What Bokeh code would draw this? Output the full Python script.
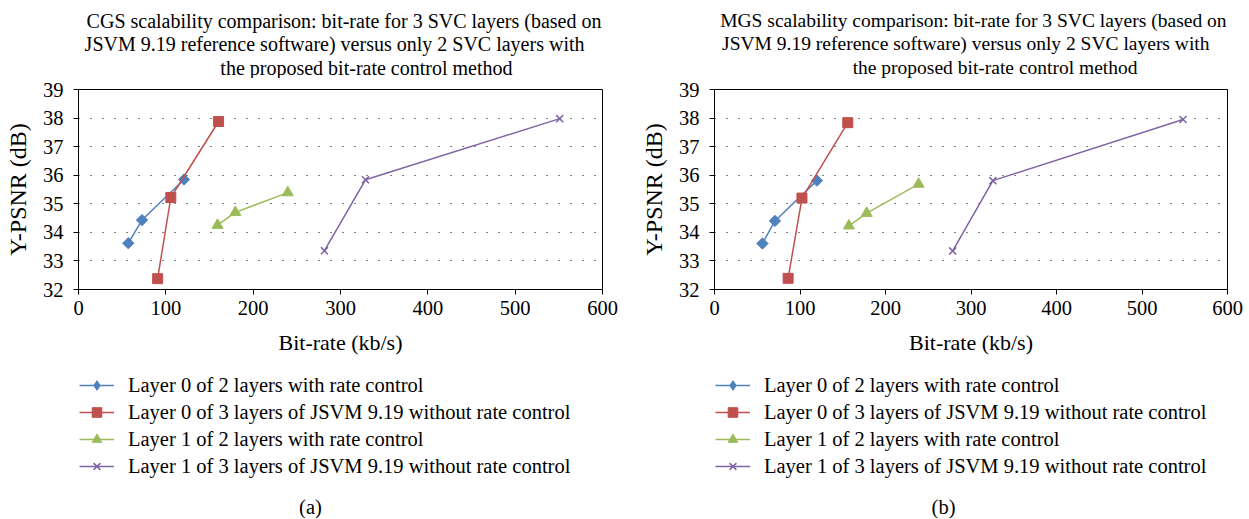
from bokeh.plotting import figure
from bokeh.layouts import row, column
from bokeh.models import Legend, LegendItem, FixedTicker, Range1d
from bokeh.core.properties import value
from bokeh.embed import file_html
from bokeh.resources import INLINE

# ---------------- data ----------------
series_names = [
    "Layer 0 of 2 layers with rate control",
    "Layer 0 of 3 layers of JSVM 9.19 without rate control",
    "Layer 1 of 2 layers with rate control",
    "Layer 1 of 3 layers of JSVM 9.19 without rate control",
]

x_ticks = [0, 100, 200, 300, 400, 500, 600]
y_ticks = [32, 33, 34, 35, 36, 37, 38, 39]

# (a) CGS
cgs_l0_2_x = [57.0, 72.7, 120.8]
cgs_l0_2_y = [33.62, 34.43, 35.85]
cgs_l0_3_x = [90.6, 105.7, 160.4]
cgs_l0_3_y = [32.38, 35.22, 37.88]
cgs_l1_2_x = [159.2, 179.6, 239.6]
cgs_l1_2_y = [34.25, 34.70, 35.39]
cgs_l1_3_x = [281.6, 328.6, 551.0]
cgs_l1_3_y = [33.36, 35.84, 37.98]

# (b) MGS
mgs_l0_2_x = [56.1, 70.7, 119.8]
mgs_l0_2_y = [33.61, 34.40, 35.81]
mgs_l0_3_x = [86.1, 102.3, 155.9]
mgs_l0_3_y = [32.39, 35.20, 37.84]
mgs_l1_2_x = [157.2, 178.0, 238.7]
mgs_l1_2_y = [34.23, 34.67, 35.69]
mgs_l1_3_x = [278.6, 325.6, 548.0]
mgs_l1_3_y = [33.35, 35.81, 37.95]

title_a = ["CGS scalability comparison: bit-rate for 3 SVC layers (based on",
           "JSVM 9.19 reference software) versus only 2 SVC layers with",
           "the proposed bit-rate control method"]
title_b = ["MGS scalability comparison: bit-rate for 3 SVC layers (based on",
           "JSVM 9.19 reference software) versus only 2 SVC layers with",
           "the proposed bit-rate control method"]

x_label = "Bit-rate (kb/s)"
y_label = "Y-PSNR (dB)"

# ---------------- style ----------------
FONT = "Liberation Serif"
FS = "20.5px"
colors = ["#4F81BD", "#C0504D", "#9BBB59", "#8064A2"]
HEAD_H = 78
TOP_B = 11
FRAME_H = 200
BOT_B = 80
MAIN_H = TOP_B + FRAME_H + BOT_B
FOOT_H = 150


def blank(width, height, frame_w):
    # the column layout aligns this frame with the chart's frame,
    # so the x range is given in frame pixels
    f = figure(width=width, height=height, output_backend="svg", toolbar_location=None,
               x_range=Range1d(0, frame_w), y_range=Range1d(0, height),
               x_axis_type=None, y_axis_type=None,
               min_border_left=0, min_border_right=0, min_border_top=0, min_border_bottom=0)
    f.xgrid.visible = False
    f.ygrid.visible = False
    f.outline_line_color = None
    f.background_fill_color = "white"
    f.border_fill_color = "white"
    return f


def make(series, titles, caption, width, left, frame_w, cap_x, title_fs):
    right = width - left - frame_w

    # ---- header with the three title lines
    head = blank(width, HEAD_H, frame_w)
    head.text(x=[frame_w - 1, frame_w - 18, frame_w - 90],
              y=[HEAD_H - 20, HEAD_H - 43, HEAD_H - 67],
              text=titles, text_font=value(FONT), text_font_size=value(title_fs),
              text_align="right", text_baseline="middle", text_color="black")

    # ---- main chart
    p = figure(width=width, height=MAIN_H, output_backend="svg", toolbar_location=None,
               x_range=Range1d(0, 600), y_range=Range1d(32, 39),
               min_border_left=left, min_border_right=right,
               min_border_top=TOP_B, min_border_bottom=BOT_B)
    p.background_fill_color = "white"
    p.border_fill_color = "white"
    p.outline_line_color = "black"
    p.outline_line_width = 1

    p.xaxis.ticker = FixedTicker(ticks=x_ticks)
    p.yaxis.ticker = FixedTicker(ticks=y_ticks)
    for ax in (p.xaxis[0], p.yaxis[0]):
        ax.major_label_text_font = FONT
        ax.major_label_text_font_size = FS
        ax.major_label_text_color = "black"
        ax.axis_label_text_font = FONT
        ax.axis_label_text_font_style = "normal"
        ax.axis_label_text_color = "black"
        ax.axis_line_color = "black"
        ax.major_tick_line_color = "black"
        ax.major_tick_in = 0
        ax.major_tick_out = 5
        ax.minor_tick_line_color = None
    p.xaxis.axis_label = x_label
    p.yaxis.axis_label = y_label
    p.xaxis.axis_label_text_font_size = "22px"
    p.yaxis.axis_label_text_font_size = "24px"
    p.xaxis.major_label_standoff = 6
    p.xaxis.axis_label_standoff = 12
    p.yaxis.major_label_standoff = 10
    p.yaxis.axis_label_standoff = 9

    p.xgrid.visible = False
    p.ygrid.ticker = FixedTicker(ticks=y_ticks[1:-1])
    p.ygrid.grid_line_color = "black"
    p.ygrid.grid_line_dash = "1 11"
    p.ygrid.grid_line_width = 1

    # ---- footer: legend + caption
    foot = blank(width, FOOT_H, frame_w)

    markers = ["diamond", "square", "triangle", "x"]
    items = []
    for (xs, ys), col, mk, name in zip(series, colors, markers, series_names):
        if mk == "diamond":
            kw = dict(marker="square", angle=0.785398, size=8, fill_color=col, line_color=col)
            lkw = dict(marker="diamond", size=16, fill_color=col, line_color=col)
        elif mk == "square":
            kw = dict(marker="square", size=10, fill_color=col, line_color=col)
            lkw = dict(marker="square", size=11, fill_color=col, line_color=col)
        elif mk == "triangle":
            kw = dict(marker="triangle", size=11, fill_color=col, line_color=col)
            lkw = kw
        else:
            kw = dict(marker="x", size=10, line_color=col, line_width=1.5)
            lkw = kw
        p.line(xs, ys, line_color=col, line_width=1.5)
        p.scatter(xs, ys, **kw)
        # legend proxies (hidden) living in the footer figure
        l2 = foot.line(xs, ys, line_color=col, line_width=1.5, visible=False)
        s2 = foot.scatter(xs, ys, visible=False, **lkw)
        items.append(LegendItem(label=name, renderers=[l2, s2]))

    legend = Legend(items=items, location=(1, 41), margin=0, padding=0,
                    spacing=3, glyph_width=35, glyph_height=24, label_height=24,
                    label_standoff=14, border_line_color=None,
                    background_fill_alpha=0, inactive_fill_alpha=0,
                    label_text_font=FONT, label_text_font_size=FS,
                    label_text_color="black")
    foot.add_layout(legend)
    foot.text(x=[cap_x], y=[13], text=[caption], text_font=value(FONT),
              text_font_size=value(FS), text_align="center", text_baseline="middle",
              text_color="black")

    return column(head, p, foot)


pa = make([(cgs_l0_2_x, cgs_l0_2_y), (cgs_l0_3_x, cgs_l0_3_y),
           (cgs_l1_2_x, cgs_l1_2_y), (cgs_l1_3_x, cgs_l1_3_y)],
          title_a, "(a)", 620, 78, 524, 232, "20px")
pb = make([(mgs_l0_2_x, mgs_l0_2_y), (mgs_l0_3_x, mgs_l0_3_y),
           (mgs_l1_2_x, mgs_l1_2_y), (mgs_l1_3_x, mgs_l1_3_y)],
          title_b, "(b)", 625, 94, 513, 229, "19.5px")

layout = row(pa, pb)
open("out.html", "w").write(file_html(layout, INLINE))
